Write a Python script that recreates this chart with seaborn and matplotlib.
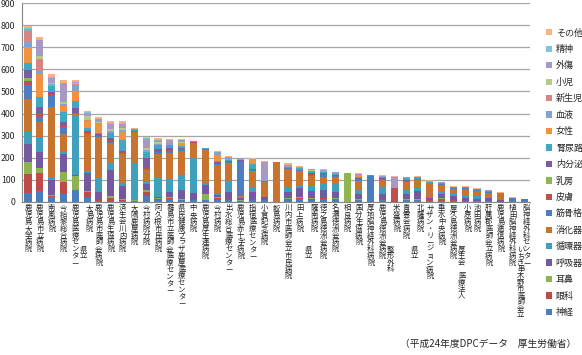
import numpy as np
import matplotlib
matplotlib.use("Agg")
import matplotlib.pyplot as plt
import seaborn as sns
from matplotlib import transforms
from matplotlib.patches import Patch

# hospitals (left to right); a space splits a prefix that sits in its own column
hospitals = [
    "鹿児島大学病院", "鹿児島市立病院", "南風病院", "今給黎総合病院", "鹿児島医療センター",
    "県立 大島病院", "鹿児島市医師会病院", "鹿児島生協病院", "済生会川内病院", "大隅鹿屋病院",
    "今村病院分院", "阿久根市民病院", "霧島市立医師会医療センター", "県民健康プラザ鹿屋医療センター", "中央病院",
    "鹿児島厚生連病院", "今村病院", "出水総合医療センター", "鹿児島赤十字病院", "指宿医療センター",
    "小倉記念病院", "鮫島病院", "川内市医師会立市民病院", "田上病院", "県立 薩南病院",
    "徳之島徳洲会病院", "名瀬徳洲会病院", "相良病院", "国分生協病院", "厚地脳神経外科病院",
    "鹿児島徳洲会病院", "整形外科 米盛病院", "青雲会病院", "県立 北薩病院", "サザン・リージョン病院",
    "垂水中央病院", "屋久島徳洲会病院", "医療法人 厚生会 小原病院", "池田病院", "肝属郡医師会立病院",
    "鹿児島逓信病院", "植田脳神経外科病院", "いちき串木野市医師会立 脳神経外科センター",
]

# stack order, bottom to top
categories = ["神経", "眼科", "耳鼻", "呼吸器", "循環器", "消化器", "筋骨格", "皮膚", "乳房",
              "内分泌", "腎尿路", "女性", "血液", "新生児", "小児", "外傷", "精神", "その他"]

shinkei = [42, 51, 24, 36, 55, 24, 6, 5, 5, 5, 27, 10, 15, 9, 8, 8, 8, 10, 5, 10,
           8, 0, 12, 12, 10, 15, 12, 0, 8, 118, 10, 2, 8, 8, 5, 5, 6, 5, 5, 4, 2, 20, 14]
ganka = [84, 79, 2, 56, 1, 23, 2, 15, 3, 1, 20, 3, 3, 2, 1, 2, 12, 2, 1, 2,
         0, 0, 2, 8, 3, 2, 2, 0, 2, 0, 2, 0, 2, 2, 2, 10, 1, 0, 0, 0, 0, 0, 0]
jibi = [54, 25, 4, 45, 62, 3, 3, 5, 5, 1, 5, 3, 5, 3, 1, 25, 3, 3, 1, 3,
        0, 0, 3, 3, 3, 3, 2, 0, 2, 0, 2, 0, 2, 3, 2, 2, 2, 0, 0, 0, 0, 0, 0]
kokyuki = [82, 73, 70, 80, 5, 80, 36, 120, 60, 3, 30, 8, 20, 40, 30, 40, 10, 28, 10, 30,
           13, 0, 30, 40, 35, 35, 30, 0, 25, 0, 20, 0, 25, 35, 10, 20, 18, 12, 10, 12, 5, 0, 0]
junkanki = [55, 64, 15, 11, 270, 12, 60, 30, 12, 165, 8, 85, 60, 68, 160, 10, 5, 50, 5, 25,
            0, 0, 20, 10, 20, 25, 35, 0, 15, 2, 35, 0, 15, 15, 5, 10, 12, 15, 15, 8, 0, 0, 0]
shokaki = [147, 71, 313, 78, 5, 165, 188, 90, 133, 140, 55, 110, 120, 110, 65, 150, 130, 85, 3, 70,
           71, 180, 80, 65, 45, 35, 30, 2, 45, 0, 30, 0, 40, 35, 60, 30, 20, 25, 20, 18, 35, 0, 0]
kinkokkaku = [65, 23, 56, 32, 3, 6, 5, 6, 5, 4, 5, 6, 8, 6, 4, 3, 6, 4, 160, 6,
              3, 2, 5, 5, 8, 10, 8, 0, 5, 0, 6, 0, 5, 5, 4, 5, 4, 5, 4, 4, 0, 0, 0]
hifu = [18, 15, 3, 8, 2, 3, 2, 8, 3, 1, 2, 2, 2, 2, 1, 0, 2, 0, 2, 0,
        0, 0, 0, 0, 2, 0, 0, 0, 0, 0, 0, 60, 0, 0, 0, 0, 0, 0, 0, 0, 0, 0, 0]
nyubo = [12, 2, 2, 2, 0, 2, 1, 2, 1, 0, 1, 1, 1, 1, 0, 0, 0, 0, 0, 0,
         0, 0, 0, 0, 0, 0, 0, 128, 0, 0, 0, 0, 0, 0, 0, 0, 0, 0, 0, 0, 0, 0, 0]
naibunpi = [38, 27, 10, 15, 22, 5, 3, 10, 5, 3, 45, 10, 8, 5, 2, 2, 3, 4, 2, 5,
            0, 0, 3, 3, 4, 4, 3, 0, 5, 0, 3, 0, 4, 3, 0, 0, 0, 0, 0, 0, 0, 0, 0]
jinnyoro = [33, 45, 25, 45, 30, 12, 8, 20, 50, 5, 30, 20, 15, 8, 2, 2, 5, 6, 2, 20,
            0, 0, 5, 6, 8, 6, 6, 0, 8, 0, 6, 0, 8, 5, 4, 4, 4, 5, 4, 4, 0, 0, 0]
josei = [72, 106, 3, 26, 45, 30, 40, 3, 35, 0, 3, 2, 3, 12, 0, 0, 28, 3, 0, 18,
         0, 0, 0, 0, 2, 3, 0, 0, 5, 0, 0, 0, 0, 0, 0, 0, 0, 0, 0, 0, 0, 0, 0]
ketsueki = [24, 10, 8, 10, 30, 3, 5, 5, 8, 2, 5, 4, 5, 3, 1, 0, 12, 3, 0, 3,
            0, 0, 0, 0, 2, 0, 2, 0, 2, 0, 0, 0, 0, 0, 0, 0, 0, 0, 0, 0, 0, 0, 0]
shinseiji = [46, 56, 0, 0, 3, 3, 0, 0, 0, 0, 0, 0, 0, 0, 0, 0, 0, 0, 0, 0,
             0, 0, 0, 0, 0, 0, 0, 0, 0, 0, 0, 0, 0, 0, 0, 0, 0, 0, 0, 0, 0, 0, 0]
shoni = [3, 15, 3, 8, 5, 17, 5, 10, 10, 0, 10, 6, 3, 2, 0, 0, 0, 2, 0, 0,
         0, 0, 0, 0, 2, 3, 0, 0, 0, 0, 0, 0, 0, 0, 0, 0, 0, 0, 0, 0, 0, 0, 0]
gaisho = [6, 70, 25, 85, 4, 15, 10, 25, 20, 2, 40, 10, 12, 8, 1, 2, 3, 4, 6, 4,
          88, 0, 8, 5, 4, 4, 5, 0, 4, 0, 4, 53, 3, 4, 5, 4, 3, 3, 2, 3, 0, 0, 0]
seishin = [4, 2, 2, 3, 2, 2, 3, 3, 3, 0, 3, 2, 1, 2, 0, 0, 0, 0, 0, 0,
           0, 0, 0, 0, 0, 0, 0, 0, 0, 0, 0, 0, 0, 0, 0, 0, 0, 0, 0, 0, 0, 0, 0]
sonota = [12, 13, 14, 12, 6, 5, 6, 8, 7, 3, 6, 6, 4, 2, 2, 2, 3, 3, 3, 3,
          3, 1, 7, 6, 3, 2, 2, 3, 4, 2, 2, 3, 3, 2, 3, 2, 2, 2, 2, 2, 3, 2, 1]

colors = ["#4a7ebb", "#be4b48", "#8db350", "#7458a0", "#3f9fbd", "#c8742f",
          "#4b7fc2", "#c0504d", "#8fb54f", "#7a5ca0", "#40a8c4", "#f0923f",
          "#83a2d4", "#d58684", "#b3cc86", "#a898c6", "#80c4d9", "#f7b283"]

sns.set_style("white")
plt.rcParams['font.family'] = ['Noto Sans CJK JP', 'DejaVu Sans']

values = np.array([shinkei, ganka, jibi, kokyuki, junkanki, shokaki, kinkokkaku, hifu, nyubo,
                   naibunpi, jinnyoro, josei, ketsueki, shinseiji, shoni, gaisho, seishin, sonota])
cum = values.cumsum(axis=0)

fig = plt.figure(figsize=(5.82, 3.55), dpi=100)
ax = fig.add_axes([0.038, 0.431, 0.873, 0.5605])

# draw cumulative totals from the top layer down so lower layers cover them
for k in range(len(categories) - 1, -1, -1):
    sns.barplot(x=hospitals, y=cum[k], color=colors[k], saturation=1, width=0.6,
                errorbar=None, linewidth=0, ax=ax)

n = len(hospitals)
ax.set_xlim(-0.5, n - 0.5)
ax.set_ylim(0, 900)
ax.set_yticks(range(0, 901, 100))
ax.yaxis.grid(True, color="#a6a6a6", lw=0.9)
ax.set_axisbelow(True)
ax.set_xlabel("")
ax.set_ylabel("")
for s in ["top", "right"]:
    ax.spines[s].set_visible(False)
for s in ["left", "bottom"]:
    ax.spines[s].set_color("#868686")
    ax.spines[s].set_linewidth(0.8)
ax.tick_params(axis="y", labelsize=6.3, length=3, color="#868686", pad=2)
ax.set_xticks(range(n))
ax.set_xticklabels([])
ax.tick_params(axis="x", which="major", length=0)
ax.set_xticks(np.arange(-0.5, n, 1), minor=True)
ax.tick_params(axis="x", which="minor", length=3, color="#868686")

# vertical (stacked) category labels
fs = 5.3
ls = 0.8
trans = transforms.blended_transform_factory(ax.transData, ax.transAxes)
for i, name in enumerate(hospitals):
    parts = name.split(" ")
    main = parts[-1]
    prefix = parts[:-1]
    xm = i + (0.2 if prefix else 0)
    ax.text(xm, -0.012, "\n".join(main), transform=trans, ha="center", va="top",
            fontsize=fs, linespacing=ls, color="#222222")
    if prefix:
        ptxt = "\n\n".join("\n".join(p) for p in reversed(prefix))
        ax.text(i - 0.3, -0.22, ptxt, transform=trans, ha="center", va="top",
                fontsize=fs, linespacing=0.76, color="#222222")

handles = [Patch(facecolor=colors[k], edgecolor="none") for k in range(len(categories) - 1, -1, -1)]
labels = categories[::-1]
fig.legend(handles, labels, loc="upper left", bbox_to_anchor=(0.938, 0.92), frameon=False,
           fontsize=6.5, handlelength=0.7, handleheight=0.7, handletextpad=0.4,
           labelspacing=0.82, borderpad=0, borderaxespad=0)

fig.text(0.99, 0.032, "（平成24年度DPCデータ　厚生労働省）", ha="right", va="center", fontsize=7)

fig.savefig("out.png", dpi=100)
